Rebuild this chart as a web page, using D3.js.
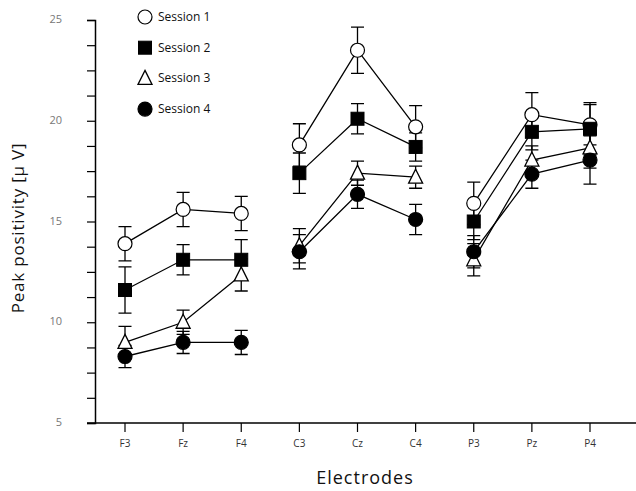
<!DOCTYPE html>
<html>
<head>
<meta charset="utf-8">
<script src="https://cdn.jsdelivr.net/npm/d3@7"></script>
<style>
  body { margin: 0; background: #fff; }
  svg { display: block; font-family: "Open Sans", "DejaVu Sans", sans-serif; }
  .tick-label { fill: #333; font-size: 10px; }
  .ylab { fill: #777; font-size: 11px; }
</style>
</head>
<body>
<svg id="chart" width="636" height="491"></svg>
<script>
// data
const electrodes = ["F3", "Fz", "F4", "C3", "Cz", "C4", "P3", "Pz", "P4"]
const groups = [[0, 1, 2], [3, 4, 5], [6, 7, 8]]
const sessionNames = ["Session 1", "Session 2", "Session 3", "Session 4"]
const session1 = [13.9, 15.6, 15.4, 18.8, 23.5, 19.7, 15.9, 20.3, 19.8]
const session1Err = [0.85, 0.85, 0.85, 1.05, 1.15, 1.05, 1.05, 1.1, 1.0]
const session2 = [11.6, 13.1, 13.1, 17.4, 20.1, 18.7, 15.0, 19.45, 19.6]
const session2Err = [1.15, 0.75, 1.0, 1.0, 0.75, 0.7, 0.9, 0.9, 1.3]
const session3 = [9.0, 10.0, 12.35, 13.8, 17.4, 17.2, 13.1, 18.05, 18.65]
const session3Err = [0.8, 0.6, 0.8, 0.85, 0.6, 0.55, 0.8, 0.7, 1.0]
const session4 = [8.3, 9.0, 9.0, 13.5, 16.35, 15.1, 13.5, 17.35, 18.05]
const session4Err = [0.55, 0.55, 0.6, 0.85, 0.7, 0.75, 0.8, 0.7, 1.2]
const yTickLabels = [5, 10, 15, 20, 25]

const series = [
  { name: sessionNames[0], values: session1, err: session1Err, shape: "circle", fill: "#fff" },
  { name: sessionNames[1], values: session2, err: session2Err, shape: "square", fill: "#000" },
  { name: sessionNames[2], values: session3, err: session3Err, shape: "triangle", fill: "#fff" },
  { name: sessionNames[3], values: session4, err: session4Err, shape: "circle", fill: "#000" }
]

const svg = d3.select("#chart")
const x = d3.scaleLinear().domain([0, electrodes.length - 1]).range([125, 590])
const y = d3.scaleLinear().domain([5, 25]).range([423, 20])
const AXIS_X = 95

// y axis
const yAxis = d3.axisLeft(y).tickValues(d3.range(5, 25.01, 1.25)).tickSize(8).tickFormat("")
const gy = svg.append("g").attr("transform", `translate(${AXIS_X},0)`).call(yAxis)
gy.select(".domain").attr("stroke", "#000").attr("stroke-width", 1.5)
gy.selectAll(".tick line").attr("stroke", "#000").attr("stroke-width", 1.2)

svg.append("g").selectAll("text").data(yTickLabels).enter().append("text")
  .attr("class", "ylab")
  .attr("x", 62).attr("y", (d) => y(d) + 3)
  .attr("text-anchor", "end").text((d) => d)

// x axis
svg.append("line").attr("x1", 87).attr("x2", 636).attr("y1", y(5)).attr("y2", y(5))
  .attr("stroke", "#000").attr("stroke-width", 1.5)
const gx = svg.append("g")
electrodes.forEach((e, i) => {
  gx.append("line").attr("x1", x(i)).attr("x2", x(i)).attr("y1", y(5)).attr("y2", y(5) + 9)
    .attr("stroke", "#000").attr("stroke-width", 1.2)
  gx.append("text").attr("class", "tick-label")
    .attr("x", x(i)).attr("y", 447).attr("text-anchor", "middle").text(e)
})

svg.append("text").attr("x", 365).attr("y", 484).attr("text-anchor", "middle")
  .attr("font-size", 18).attr("letter-spacing", 1).attr("fill", "#111").text("Electrodes")

svg.append("text").attr("transform", "translate(24,228) rotate(-90)").attr("text-anchor", "middle")
  .attr("font-size", 17).attr("letter-spacing", 0.8).attr("fill", "#111").text("Peak positivity [μ V]")

// symbols
function drawMarker(g, shape, fill, cx, cy) {
  if (shape === "circle") {
    g.append("circle").attr("cx", cx).attr("cy", cy).attr("r", 7)
      .attr("fill", fill).attr("stroke", "#000").attr("stroke-width", 1.2)
  } else if (shape === "square") {
    g.append("rect").attr("x", cx - 6.5).attr("y", cy - 6.5).attr("width", 13).attr("height", 13)
      .attr("fill", fill).attr("stroke", "#000").attr("stroke-width", 1)
  } else {
    g.append("path").attr("d", `M${cx},${cy - 8} L${cx + 7},${cy + 6} L${cx - 7},${cy + 6} Z`)
      .attr("fill", fill).attr("stroke", "#000").attr("stroke-width", 1.3)
  }
}

const lineLayer = svg.append("g")
const errLayer = svg.append("g")
const markLayer = svg.append("g")
const line = d3.line().x((d) => x(d[0])).y((d) => y(d[1]))

series.forEach((s) => {
  groups.forEach((grp) => {
    lineLayer.append("path").attr("d", line(grp.map((i) => [i, s.values[i]])))
      .attr("fill", "none").attr("stroke", "#000").attr("stroke-width", 1.3)
  })
  s.values.forEach((v, i) => {
    const cx = x(i), top = y(v + s.err[i]), bot = y(v - s.err[i])
    errLayer.append("path")
      .attr("d", `M${cx},${top} V${bot} M${cx - 6.5},${top} H${cx + 6.5} M${cx - 6.5},${bot} H${cx + 6.5}`)
      .attr("fill", "none").attr("stroke", "#000").attr("stroke-width", 1.3)
  })
})
series.forEach((s) => {
  s.values.forEach((v, i) => drawMarker(markLayer, s.shape, s.fill, x(i), y(v)))
})

// legend
const legend = svg.append("g")
series.forEach((s, i) => {
  const ly = 17 + i * 30.7
  drawMarker(legend, s.shape, s.fill, 145, ly)
  legend.append("text").attr("x", 158).attr("y", ly + 4).attr("font-size", 12)
    .attr("fill", "#111").text(s.name)
})
</script>
</body>
</html>
